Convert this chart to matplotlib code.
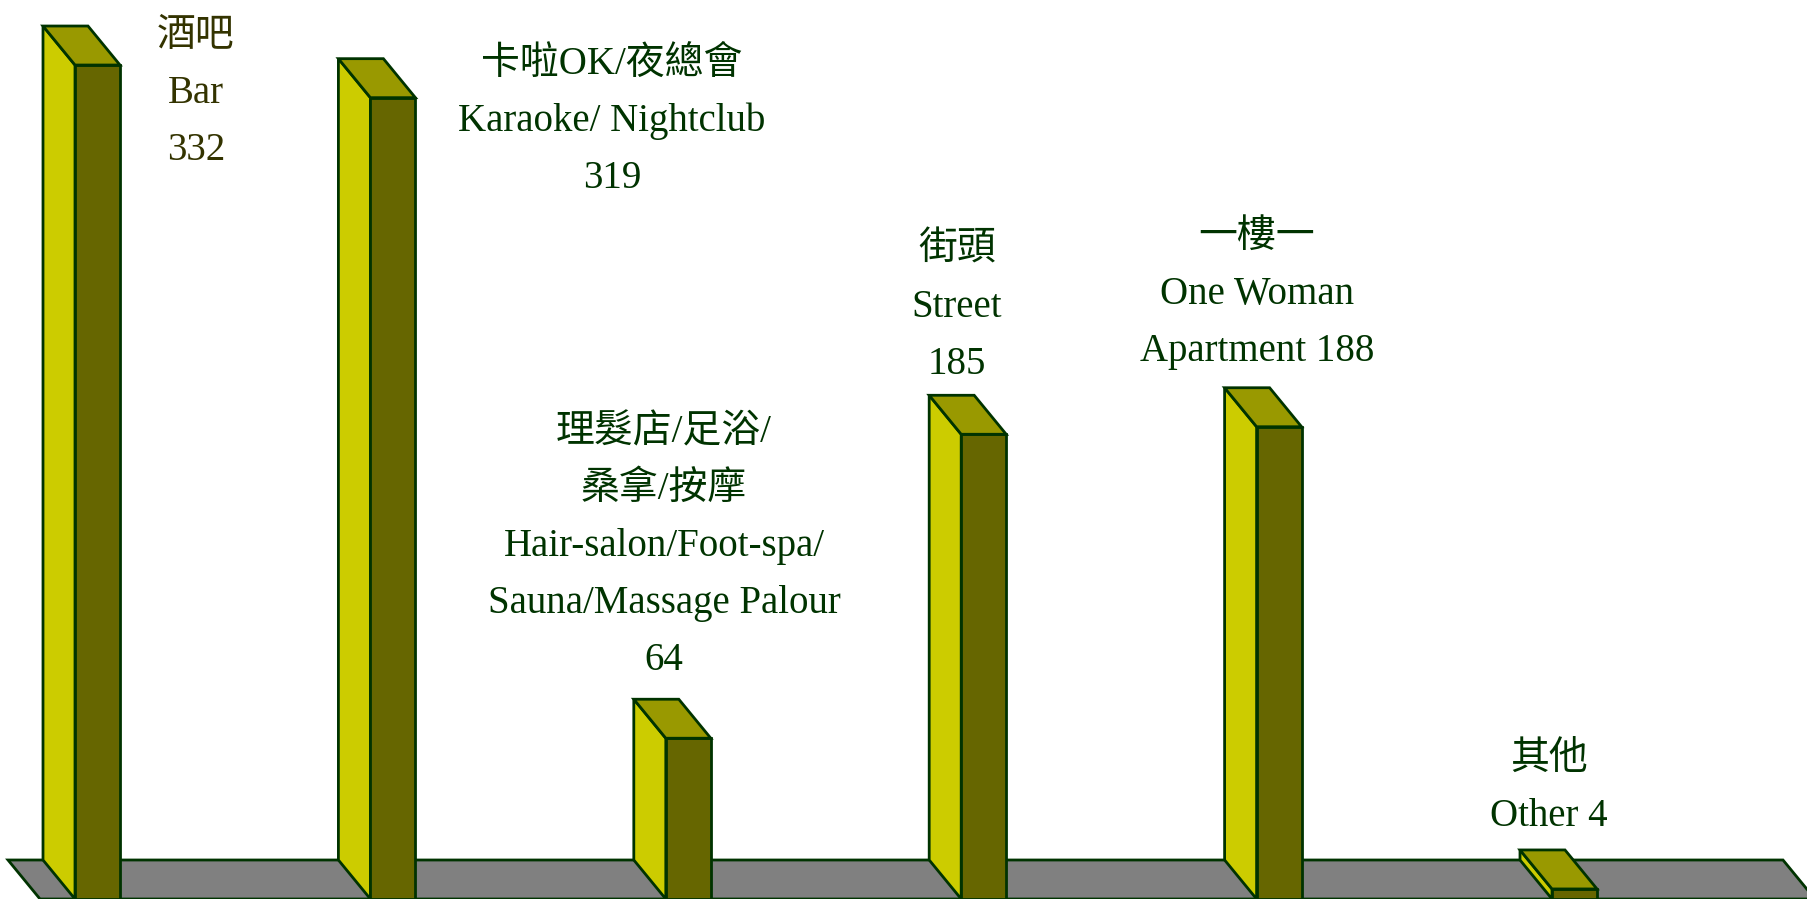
import matplotlib
matplotlib.use("Agg")
import matplotlib.pyplot as plt
from matplotlib.patches import Polygon

# ---------------- data ----------------
categories_zh = ["酒吧", "卡啦OK/夜總會", "理髮店/足浴/\n桑拿/按摩", "街頭", "一樓一", "其他"]
categories_en = ["Bar", "Karaoke/ Nightclub", "Hair-salon/Foot-spa/\nSauna/Massage Palour",
                 "Street", "One Woman\nApartment", "Other"]
values = [332, 319, 64, 185, 188, 4]
# how the value is joined to the English text (own line or same line)
value_on_new_line = [True, True, True, True, False, False]

# ---------------- layout / style ----------------
W_PX, H_PX, DPI = 1808, 899, 100
PX_PER_UNIT = 2.512          # vertical pixels per count
X_STEP_PX = 295.4            # horizontal pixels between categories
X0_PX = 43                   # back-left corner of first bar
BAR_W_PX = 45
DEPTH_DX_PX, DEPTH_DY_PX = 32, 39
FLOOR_LEFT_PX, FLOOR_RIGHT_PX = 8, 1783

C_LEFT, C_TOP, C_FRONT = "#CCCC00", "#999900", "#666600"
C_FLOOR, C_EDGE = "#808080", "#003300"
LW = 2.0

# label layout: centre x (px), first baseline (px from top), line step (px), colour
label_x_px = [196, 612, 664, 957, 1257, 1549]
label_y0_px = [46, 74, 442, 260, 247, 769]
LINE_STEP_PX = 57
label_colors = ["#333300", "#003300", "#003300", "#003300", "#003300", "#003300"]
FONT = ["Liberation Serif", "Noto Sans CJK TC", "DejaVu Sans"]
FONT_SIZE = 28

fig = plt.figure(figsize=(W_PX / DPI, H_PX / DPI), dpi=DPI)
ax = fig.add_axes([0, 0, 1, 1])
ax.set_xlim(-X0_PX / X_STEP_PX, (W_PX - X0_PX) / X_STEP_PX)
ax.set_ylim(0, H_PX / PX_PER_UNIT)
ax.axis("off")

w = BAR_W_PX / X_STEP_PX
dx = DEPTH_DX_PX / X_STEP_PX
dy = DEPTH_DY_PX / PX_PER_UNIT


def poly(pts, fc):
    ax.add_patch(Polygon(pts, closed=True, facecolor=fc, edgecolor=C_EDGE,
                         linewidth=LW, joinstyle="miter"))


# floor
fl = (FLOOR_LEFT_PX - X0_PX) / X_STEP_PX
fr = (FLOOR_RIGHT_PX - X0_PX) / X_STEP_PX
poly([(fl, dy), (fr, dy), (fr + dx, 0), (fl + dx, 0)], C_FLOOR)

# bars (oblique 3-D boxes)
for i, v in enumerate(values):
    x = i
    # left side face
    poly([(x, dy), (x, v + dy), (x + dx, v), (x + dx, 0)], C_LEFT)
    # front face
    poly([(x + dx, 0), (x + dx, v), (x + dx + w, v), (x + dx + w, 0)], C_FRONT)
    # top face
    poly([(x, v + dy), (x + w, v + dy), (x + w + dx, v), (x + dx, v)], C_TOP)

# labels
for i, (zh, en, v) in enumerate(zip(categories_zh, categories_en, values)):
    if value_on_new_line[i]:
        lines = zh.split("\n") + en.split("\n") + [str(v)]
    else:
        en_lines = en.split("\n")
        en_lines[-1] = f"{en_lines[-1]} {v}"
        lines = zh.split("\n") + en_lines
    xd = (label_x_px[i] - X0_PX) / X_STEP_PX
    for k, line in enumerate(lines):
        ypx = label_y0_px[i] + k * LINE_STEP_PX
        yd = (H_PX - ypx) / PX_PER_UNIT
        ax.text(xd, yd, line, ha="center", va="baseline", fontsize=FONT_SIZE,
                family=FONT, color=label_colors[i])

fig.savefig("out.png", dpi=DPI)
